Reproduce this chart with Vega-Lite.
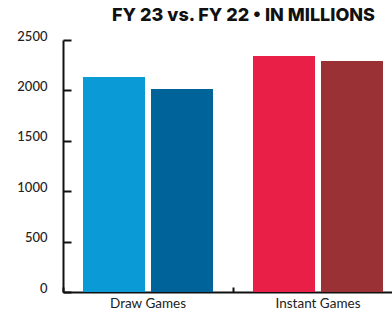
{
  "$schema": "https://vega.github.io/schema/vega-lite/v6.json",
  "width": 329,
  "height": 252,
  "autosize": {"type": "none"},
  "padding": {"left": 63, "top": 40, "right": 0, "bottom": 20},
  "background": "white",
  "title": {
    "text": "FY 23 vs. FY 22 • IN MILLIONS",
    "anchor": "end",
    "frame": "group",
    "font": "Inter",
    "fontSize": 18,
    "fontWeight": 800,
    "color": "#111111",
    "dx": -17,
    "offset": 5
  },
  "data": {
    "values": [
      {"category": "Draw Games", "year": "FY 23", "series": "Draw FY 23", "sales": 2133},
      {"category": "Draw Games", "year": "FY 22", "series": "Draw FY 22", "sales": 2014},
      {"category": "Instant Games", "year": "FY 23", "series": "Instant FY 23", "sales": 2341},
      {"category": "Instant Games", "year": "FY 22", "series": "Instant FY 22", "sales": 2292}
    ]
  },
  "mark": {"type": "bar"},
  "encoding": {
    "x": {
      "field": "category",
      "type": "nominal",
      "sort": ["Draw Games", "Instant Games"],
      "scale": {"range": [0, 340], "paddingInner": 0, "paddingOuter": 0},
      "axis": {
        "title": null,
        "labelAngle": 0,
        "bandPosition": 0,
        "ticks": true,
        "tickSize": -5,
        "tickWidth": 2,
        "tickColor": "#111111",
        "domainColor": "#111111",
        "domainWidth": 2,
        "labelFont": "Lato",
        "labelFontSize": 13.5,
        "labelColor": "#222222",
        "labelPadding": 9
      }
    },
    "xOffset": {
      "field": "year",
      "type": "nominal",
      "sort": ["FY 23", "FY 22"],
      "scale": {"paddingInner": 0.0882, "paddingOuter": 0.294}
    },
    "y": {
      "field": "sales",
      "type": "quantitative",
      "scale": {"domain": [0, 2500], "nice": false},
      "axis": {
        "title": null,
        "grid": false,
        "values": [0, 500, 1000, 1500, 2000, 2500],
        "format": "d",
        "tickSize": -8,
        "tickWidth": 2,
        "tickColor": "#111111",
        "domainColor": "#111111",
        "domainWidth": 2,
        "labelFont": "Lato",
        "labelFontSize": 13,
        "labelFontWeight": 500,
        "labelColor": "#222222",
        "labelBaseline": "alphabetic",
        "labelPadding": 24
      }
    },
    "color": {
      "field": "series",
      "type": "nominal",
      "scale": {
        "domain": ["Draw FY 23", "Draw FY 22", "Instant FY 23", "Instant FY 22"],
        "range": ["#0a9bd6", "#00649a", "#e91f47", "#9a3134"]
      },
      "legend": null
    }
  },
  "config": {"view": {"stroke": null}}
}
